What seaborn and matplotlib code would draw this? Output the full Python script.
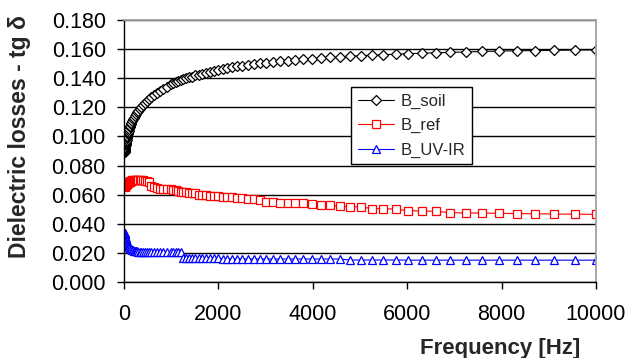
import numpy as np
import pandas as pd
import seaborn as sns
import matplotlib
matplotlib.use("Agg")
import matplotlib.pyplot as plt

# frequency points of the sweep [Hz]
freq = [
    20.0, 21.9, 24.0, 26.3, 28.8, 31.6, 34.7, 38.0, 41.7, 45.7, 50.1, 55.0,
    60.3, 66.1, 72.4, 79.4, 87.1, 95.5,
    100, 109.6, 120.2, 131.8, 144.5, 158.5, 173.8, 190.5, 208.9, 229.1, 251.2,
    275.4, 302, 331.1, 363.1, 398.1, 436.5, 478.6, 524.8, 575.4, 631, 691.8,
    758.6, 831.8, 912,
    1000, 1047, 1096, 1148, 1202, 1259, 1318, 1380, 1445, 1514, 1585, 1660,
    1738, 1820, 1905, 1995, 2089, 2188, 2291, 2399, 2512, 2630, 2754, 2884,
    3020, 3162, 3311, 3467, 3631, 3802, 3981, 4169, 4365, 4571, 4786, 5012,
    5248, 5495, 5754, 6026, 6310, 6607, 6918, 7244, 7586, 7943, 8318, 8710,
    9120, 9550, 10000,
]

b_soil = [
    0.0890, 0.0898, 0.0906, 0.0914, 0.0922, 0.0930, 0.0938, 0.0946, 0.0954,
    0.0962, 0.0970, 0.0979, 0.0988, 0.0997, 0.1006, 0.1015, 0.1024, 0.1033,
    0.1040, 0.1051, 0.1062, 0.1073, 0.1084, 0.1095, 0.1106, 0.1117, 0.1129,
    0.1141, 0.1153, 0.1165, 0.1177, 0.1189, 0.1201, 0.1215, 0.1229, 0.1243,
    0.1257, 0.1271, 0.1285, 0.1299, 0.1313, 0.1327, 0.1341,
    0.1360, 0.1367, 0.1373, 0.1380, 0.1386, 0.1393, 0.1399, 0.1406, 0.1412,
    0.1419, 0.1425, 0.1431, 0.1437, 0.1444, 0.1450, 0.1456, 0.1462, 0.1469,
    0.1475, 0.1481, 0.1486, 0.1492, 0.1497, 0.1503, 0.1508, 0.1512, 0.1517,
    0.1521, 0.1526, 0.1530, 0.1534, 0.1538, 0.1543, 0.1547, 0.1551, 0.1555,
    0.1558, 0.1562, 0.1565, 0.1569, 0.1572, 0.1575, 0.1578, 0.1581, 0.1584,
    0.1587, 0.1589, 0.1590, 0.1592, 0.1594, 0.1595,
]

b_ref = [
    0.0655, 0.0658, 0.0660, 0.0662, 0.0664, 0.0666, 0.0667, 0.0669, 0.0670,
    0.0671, 0.0673, 0.0674, 0.0676, 0.0677, 0.0679, 0.0680, 0.0682, 0.0684,
    0.0686, 0.0688, 0.0690, 0.0692, 0.0694, 0.0696, 0.0698, 0.0699, 0.0700,
    0.0701, 0.0701, 0.0702, 0.0701, 0.0701, 0.0700, 0.0698, 0.0696, 0.0692,
    0.0688, 0.0660, 0.0652, 0.0646, 0.0642, 0.0640, 0.0638,
    0.0636, 0.0634, 0.0632, 0.0625, 0.0620, 0.0617, 0.0615, 0.0613, 0.0611,
    0.0609, 0.0600, 0.0598, 0.0596, 0.0594, 0.0592, 0.0590, 0.0586, 0.0584,
    0.0582, 0.0580, 0.0578, 0.0570, 0.0568, 0.0566, 0.0550, 0.0548, 0.0546,
    0.0544, 0.0542, 0.0540, 0.0535, 0.0530, 0.0528, 0.0520, 0.0518, 0.0516,
    0.0505, 0.0503, 0.0501, 0.0490, 0.0488, 0.0486, 0.0476, 0.0475, 0.0474,
    0.0472, 0.0470, 0.0469, 0.0467, 0.0466, 0.0465,
]

b_uvir = [
    0.0335, 0.0330, 0.0324, 0.0318, 0.0312, 0.0306, 0.0300, 0.0295, 0.0290,
    0.0285, 0.0280, 0.0275, 0.0270, 0.0265, 0.0260, 0.0256, 0.0252, 0.0248,
    0.0245, 0.0241, 0.0237, 0.0233, 0.0229, 0.0225, 0.0222, 0.0219, 0.0216,
    0.0214, 0.0212, 0.0210, 0.0208, 0.0208, 0.0207, 0.0207, 0.0207, 0.0206,
    0.0206, 0.0206, 0.0206, 0.0205, 0.0205, 0.0205, 0.0205,
    0.0205, 0.0205, 0.0205, 0.0205, 0.0205, 0.0168, 0.0168, 0.0168, 0.0168,
    0.0168, 0.0168, 0.0168, 0.0168, 0.0168, 0.0168, 0.0168, 0.0158, 0.0158,
    0.0158, 0.0158, 0.0158, 0.0158, 0.0158, 0.0158, 0.0158, 0.0158, 0.0158,
    0.0158, 0.0158, 0.0158, 0.0158, 0.0158, 0.0158, 0.0158, 0.0151, 0.0151,
    0.0151, 0.0151, 0.0151, 0.0150, 0.0150, 0.0150, 0.0150, 0.0150, 0.0150,
    0.0150, 0.0150, 0.0150, 0.0150, 0.0150, 0.0150,
]

series = [
    ("B_soil", b_soil, "black", "D"),
    ("B_ref", b_ref, "red", "s"),
    ("B_UV-IR", b_uvir, "blue", "^"),
]

sns.set_style("white")
plt.rcParams["font.family"] = ["Liberation Sans", "DejaVu Sans"]

fig, ax = plt.subplots(figsize=(6.29, 3.58), dpi=100)
fig.subplots_adjust(left=0.197, right=0.9475, top=0.944, bottom=0.2123)

for name, vals, col, mk in series:
    df = pd.DataFrame({"freq": freq, "val": vals})
    sns.lineplot(data=df, x="freq", y="val", ax=ax, color=col, lw=0.8,
                 marker=mk, markersize=6 if mk == "s" else 5.5,
                 markerfacecolor="white",
                 markeredgecolor=col, markeredgewidth=0.9,
                 estimator=None, label=name)

ax.set_xlim(0, 10000)
ax.set_ylim(0, 0.18)
ax.set_xticks(np.arange(0, 10001, 2000))
ax.set_yticks(np.arange(0, 0.181, 0.02))
ax.yaxis.set_major_formatter(matplotlib.ticker.FormatStrFormatter("%.3f"))

ax.grid(axis="y", color="black", lw=1.0)
ax.set_axisbelow(True)
for side in ["left", "bottom"]:
    ax.spines[side].set_color("black")
    ax.spines[side].set_linewidth(1.0)
for side in ["top", "right"]:
    ax.spines[side].set_color("#a0a0a0")
    ax.spines[side].set_linewidth(1.3)

ax.tick_params(axis="both", labelsize=15.5, colors="black", direction="out",
               length=5, width=1.0)
ax.tick_params(axis="y", pad=8)
ax.tick_params(axis="x", pad=11)
ax.tick_params(bottom=True, left=True)

ax.set_ylabel("Dielectric losses - tg δ", fontsize=16.5, fontweight="bold", va="center")
ax.yaxis.set_label_coords(-0.222, 0.557)
ax.set_xlabel("Frequency [Hz]", fontsize=16, fontweight="bold", va="center")
ax.xaxis.set_label_coords(0.797, -0.254)

leg = ax.legend(loc="upper left", bbox_to_anchor=(0.481, 0.744), borderaxespad=0,
                fontsize=12, frameon=True, fancybox=False, shadow=False,
                handlelength=2.2, labelspacing=0.55, borderpad=0.4,
                handletextpad=0.4)
leg.get_frame().set_edgecolor("black")
leg.get_frame().set_linewidth(1.0)
leg.get_frame().set_alpha(1)

fig.savefig("out.png", dpi=100)
